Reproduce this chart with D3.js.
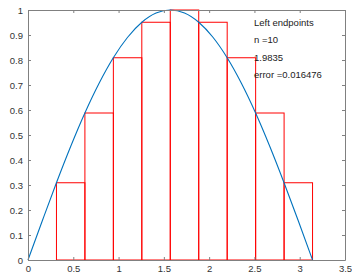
<!DOCTYPE html>
<html>
<head>
<meta charset="utf-8">
<script src="https://cdn.jsdelivr.net/npm/d3@7"></script>
<style>
  html, body { margin: 0; padding: 0; background: #fff; }
  svg { display: block; font-family: "Liberation Sans", Arial, sans-serif; }
</style>
</head>
<body>
<div id="chart"></div>
<script>
// left endpoints of each subinterval and the rectangle heights
const leftEdges = [0, 0.3142, 0.6283, 0.9425, 1.2566, 1.5708, 1.8850, 2.1991, 2.5133, 2.8274];
const barWidth = 0.3142;
const barHeights = [0, 0.309, 0.588, 0.809, 0.951, 1.0, 0.951, 0.809, 0.588, 0.309];

// curve samples
const curveX = [0, 0.157, 0.314, 0.471, 0.628, 0.785, 0.942, 1.100, 1.257, 1.414, 1.571,
  1.728, 1.885, 2.042, 2.199, 2.356, 2.513, 2.670, 2.827, 2.985, 3.1416];
const curveY = [0, 0.156, 0.309, 0.454, 0.588, 0.707, 0.809, 0.891, 0.951, 0.988, 1.0,
  0.988, 0.951, 0.891, 0.809, 0.707, 0.588, 0.454, 0.309, 0.156, 0];

const xTicks = [0, 0.5, 1, 1.5, 2, 2.5, 3, 3.5];
const yTicks = [0, 0.1, 0.2, 0.3, 0.4, 0.5, 0.6, 0.7, 0.8, 0.9, 1];
const notes = ["Left endpoints", "n =10", "1.9835", "error =0.016476"];

const W = 352, H = 276;
const margin = { top: 10, right: 7, bottom: 16, left: 28 };

const svg = d3.select("#chart").append("svg").attr("width", W).attr("height", H);

const x = d3.scaleLinear().domain([0, 3.5]).range([margin.left, W - margin.right]);
const y = d3.scaleLinear().domain([0, 1]).range([H - margin.bottom, margin.top]);

const axisColor = "#808080";
const labelColor = "#333";

// rectangles
svg.append("g")
  .selectAll("rect")
  .data(leftEdges.map((l, i) => ({ l, h: barHeights[i] })))
  .enter()
  .append("rect")
  .attr("x", d => x(d.l))
  .attr("y", d => y(d.h))
  .attr("width", d => x(d.l + barWidth) - x(d.l))
  .attr("height", d => y(0) - y(d.h))
  .attr("fill", "none")
  .attr("stroke", "#ff0000")
  .attr("stroke-width", 1);

// curve
const line = d3.line().x((d, i) => x(curveX[i])).y(d => y(d)).curve(d3.curveMonotoneX);
svg.append("path")
  .datum(curveY)
  .attr("d", line)
  .attr("fill", "none")
  .attr("stroke", "#0072bd")
  .attr("stroke-width", 1.1);

// axes (ticks inside, box)
const styleAxis = g => {
  g.select(".domain").attr("stroke", axisColor);
  g.selectAll(".tick line").attr("stroke", axisColor);
  g.selectAll(".tick text").attr("fill", labelColor).style("font-size", "9.5px");
};

svg.append("g")
  .attr("transform", `translate(0,${y(0)})`)
  .call(d3.axisBottom(x).tickValues(xTicks).tickFormat(d3.format("")).tickSizeInner(-3).tickSizeOuter(0).tickPadding(5))
  .call(styleAxis);

svg.append("g")
  .attr("transform", `translate(0,${y(1)})`)
  .call(d3.axisTop(x).tickValues(xTicks).tickFormat("").tickSizeInner(-3).tickSizeOuter(0))
  .call(styleAxis);

svg.append("g")
  .attr("transform", `translate(${x(0)},0)`)
  .call(d3.axisLeft(y).tickValues(yTicks).tickFormat(d3.format("")).tickSizeInner(-3).tickSizeOuter(0).tickPadding(5))
  .call(styleAxis);

svg.append("g")
  .attr("transform", `translate(${x(3.5)},0)`)
  .call(d3.axisRight(y).tickValues(yTicks).tickFormat("").tickSizeInner(-3).tickSizeOuter(0))
  .call(styleAxis);

// annotation text
svg.append("g")
  .selectAll("text")
  .data(notes)
  .enter()
  .append("text")
  .attr("x", 254)
  .attr("y", (d, i) => 26 + i * 17.4)
  .attr("fill", "#222")
  .style("font-size", "9.5px")
  .text(d => d);
</script>
</body>
</html>
